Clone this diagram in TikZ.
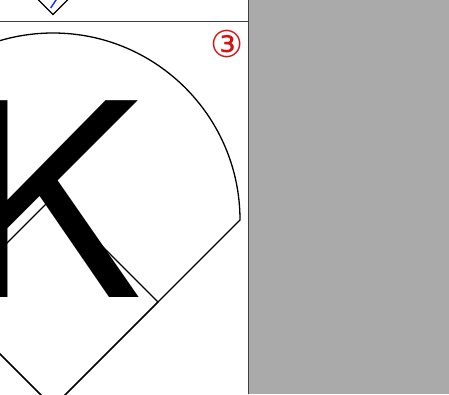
\documentclass[tikz,border=0pt]{standalone}
\usepackage{fontspec}
\usepackage{xcolor}
\usetikzlibrary{positioning}
\setmainfont{TeX Gyre Heros}
\newfontfamily\symfont{DejaVu Sans}
\definecolor{panelgray}{RGB}{170,170,170}
\definecolor{markred}{RGB}{210,20,20}
\definecolor{pathblue}{RGB}{20,40,240}

\begin{document}
\begin{tikzpicture}[
        x=1pt, y=-1pt,
        outline/.style={draw=black, line width=1.3pt, line join=miter},
        rule/.style={draw=black!75, line width=1.5pt},
        bigletter/.style={inner sep=0pt, anchor=base west, font=\fontsize{270}{270}\selectfont},
        badge/.style={inner sep=0pt, text=markred, font=\symfont\fontsize{37}{37}\selectfont}
    ]
        \useasboundingbox (0,0) rectangle (449,394);
        \fill[panelgray] (249,0) rectangle (449,394);
        \fill[white] (0,0) rectangle (248,394);

        \begin{scope}
            \clip (0,0) rectangle (248,394);
            % piece of the shape above
            \draw[outline] (53,14.5) -- (73,-5.5) -- (53,-25.5) -- (33,-5.5) -- cycle;
            \draw[pathblue, line width=1.4pt] (50.7,8) -- (58,-3);
            % inner diamond, then the letter over it
            \draw[outline] (53,197) -- (158,302) -- (53,407) -- (-52,302) -- cycle;
            \node[bigletter] (letter) at (-39,297) {K};
            % outer outline: half circle over a half diamond
            \draw[outline] (240,220) arc[start angle=0, end angle=-180, radius=187] -- (53,407) -- cycle;
        \end{scope}

        \draw[rule] (0,21.5) -- (248,21.5);
        \draw[rule] (248.5,0) -- (248.5,394);
        \node[badge] (num) at (227,44) {③};
    \end{tikzpicture}
\end{document}
